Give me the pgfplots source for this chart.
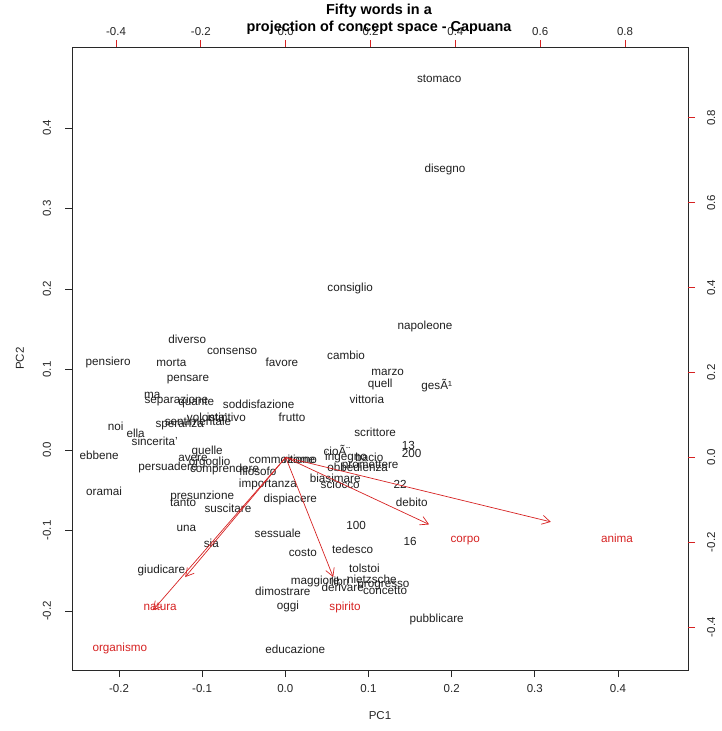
\documentclass[border=0pt]{standalone}
\usepackage{fontspec}
\setmainfont{Liberation Sans}
\usepackage{pgfplots}
\usepackage{pgfplotstable}
\pgfplotsset{compat=1.18}
\usetikzlibrary{arrows.meta}
\definecolor{rred}{RGB}{214,34,34}
\definecolor{boxcol}{RGB}{40,40,40}

\pgfplotstableread{
x y label
0.185 0.461 stomaco
0.192 0.349 disegno
0.078 0.201 consiglio
0.168 0.153 napoleone
-0.118 0.138 diverso
-0.064 0.123 consenso
-0.004 0.109 favore
0.073 0.118 cambio
-0.213 0.109 pensiero
-0.137 0.108 morta
0.123 0.096 marzo
-0.117 0.088 pensare
0.114 0.082 quell
0.182 0.080 gesÃ¹
-0.160 0.068 ma
-0.131 0.061 separazione
-0.107 0.058 quante
-0.032 0.057 soddisfazione
0.098 0.063 vittoria
-0.094 0.041 volonta'
-0.071 0.041 istintivo
-0.105 0.036 sentimentale
0.008 0.041 frutto
-0.204 0.030 noi
-0.127 0.030 speranza
-0.180 0.021 ella
-0.157 0.011 sincerita'
0.108 0.022 scrittore
0.148 0.006 13
0.152 -0.004 200
0.062 0.000 cioÃ¨
0.073 -0.009 ingegno
0.101 -0.009 bacio
-0.224 -0.006 ebbene
-0.094 -0.002 quelle
-0.111 -0.011 avere
-0.091 -0.015 orgoglio
-0.141 -0.022 persuadere
-0.073 -0.024 comprendere
-0.033 -0.026 filosofo
-0.004 -0.012 commozione
0.018 -0.012 ritorno
0.087 -0.022 obbedienza
0.102 -0.020 promettere
0.060 -0.035 biasimare
0.066 -0.043 sciocco
0.138 -0.043 22
-0.218 -0.051 oramai
-0.021 -0.043 importanza
-0.100 -0.058 presunzione
-0.123 -0.066 tanto
0.006 -0.062 dispiacere
-0.069 -0.072 suscitare
0.152 -0.065 debito
-0.119 -0.097 una
0.085 -0.094 100
-0.009 -0.104 sessuale
-0.089 -0.116 sia
0.150 -0.114 16
0.021 -0.128 costo
0.081 -0.123 tedesco
-0.149 -0.150 giudicare
0.095 -0.147 tolstoi
0.036 -0.163 maggiore
0.066 -0.163 libri
0.104 -0.161 nietzsche
0.069 -0.171 derivare
0.118 -0.168 progresso
0.120 -0.175 concetto
-0.003 -0.176 dimostrare
0.003 -0.194 oggi
0.182 -0.211 pubblicare
0.012 -0.248 educazione
}\words

\pgfplotstableread{
x y label
0.781 -0.190 anima
0.423 -0.197 corpo
0.140 -0.353 spirito
-0.296 -0.353 natura
-0.391 -0.450 organismo
}\vars

\begin{document}
\begin{tikzpicture}
\path[use as bounding box] (0,0) rectangle (721pt,731pt);
\begin{axis}[
  at={(72pt,61pt)}, anchor=south west,
  scale only axis, width=616pt, height=623pt,
  xmin=-0.2565, xmax=0.4842, ymin=-0.2733, ymax=0.5006,
  clip=false,
  axis line style={boxcol, line width=0.8pt},
  xtick={-0.2,-0.1,0,0.1,0.2,0.3,0.4},
  ytick={-0.2,-0.1,0,0.1,0.2,0.3,0.4},
  xtick pos=left, ytick pos=left,
  tick align=outside, major tick length=7pt,
  tick style={boxcol, line width=0.8pt},
  /pgf/number format/fixed, /pgf/number format/fixed zerofill,
  /pgf/number format/precision=1, /pgf/number format/assume math mode=true,
  ticklabel style={font=\fontsize{11.5}{13}\selectfont, text=black!85},
  xticklabel style={anchor=north, inner sep=0pt, outer ysep=7pt},
  yticklabel style={rotate=90, anchor=south, inner sep=0pt, outer ysep=14pt},
  xlabel={PC1}, ylabel={PC2},
  label style={font=\fontsize{11.5}{13}\selectfont, text=black!85},
  xlabel style={at={(axis description cs:0.5,-0.0738)}, anchor=center},
  ylabel style={at={(axis description cs:-0.0844,0.5)}, anchor=center, rotate=0},
]
\addplot[draw=none, mark=none, nodes near coords, point meta=explicit symbolic,
  every node near coord/.append style={anchor=center, inner sep=0pt,
    font=\fontsize{11.7}{14}\selectfont, text=black!88}]
  table[x=x, y=y, meta=label] \words;
\end{axis}
\begin{axis}[
  at={(72pt,61pt)}, anchor=south west,
  scale only axis, width=616pt, height=623pt,
  xmin=-0.5038, xmax=0.9484, ymin=-0.501, ymax=0.967,
  clip=false,
  axis line style={draw=none},
  xtick={-0.4,-0.2,0,0.2,0.4,0.6,0.8},
  ytick={-0.4,-0.2,0,0.2,0.4,0.6,0.8},
  xtick pos=right, xticklabel pos=right, ytick pos=right, yticklabel pos=right,
  tick align=outside, major tick length=7pt,
  tick style={rred, line width=0.8pt},
  /pgf/number format/fixed, /pgf/number format/fixed zerofill,
  /pgf/number format/precision=1, /pgf/number format/assume math mode=true,
  ticklabel style={font=\fontsize{11.5}{13}\selectfont, text=black!85},
  xticklabel style={anchor=south, inner sep=0pt, outer ysep=4.5pt},
  yticklabel style={rotate=90, anchor=north, inner sep=0pt, outer ysep=12pt},
]
\addplot[rred, line width=0.7pt, -{Straight Barb[length=8pt,width=9pt]}] coordinates {(0,0) (0.625,-0.152)};
\addplot[rred, line width=0.7pt, -{Straight Barb[length=8pt,width=9pt]}] coordinates {(0,0) (0.338,-0.158)};
\addplot[rred, line width=0.7pt, -{Straight Barb[length=8pt,width=9pt]}] coordinates {(0,0) (0.112,-0.282)};
\addplot[rred, line width=0.7pt, -{Straight Barb[length=8pt,width=9pt]}] coordinates {(0,0) (-0.237,-0.282)};
\addplot[rred, line width=0.7pt, -{Straight Barb[length=8pt,width=9pt]}] coordinates {(0,0) (-0.313,-0.360)};
\addplot[draw=none, mark=none, nodes near coords, point meta=explicit symbolic,
  every node near coord/.append style={anchor=center, inner sep=0pt,
    font=\fontsize{11.7}{14}\selectfont, text=rred}]
  table[x=x, y=y, meta=label] \vars;
\end{axis}
\node[align=center, inner sep=0pt, font=\bfseries\fontsize{14.4}{17}\selectfont]
  at (379pt,712pt) {Fifty words in a\\projection of concept space - Capuana};
\end{tikzpicture}
\end{document}
